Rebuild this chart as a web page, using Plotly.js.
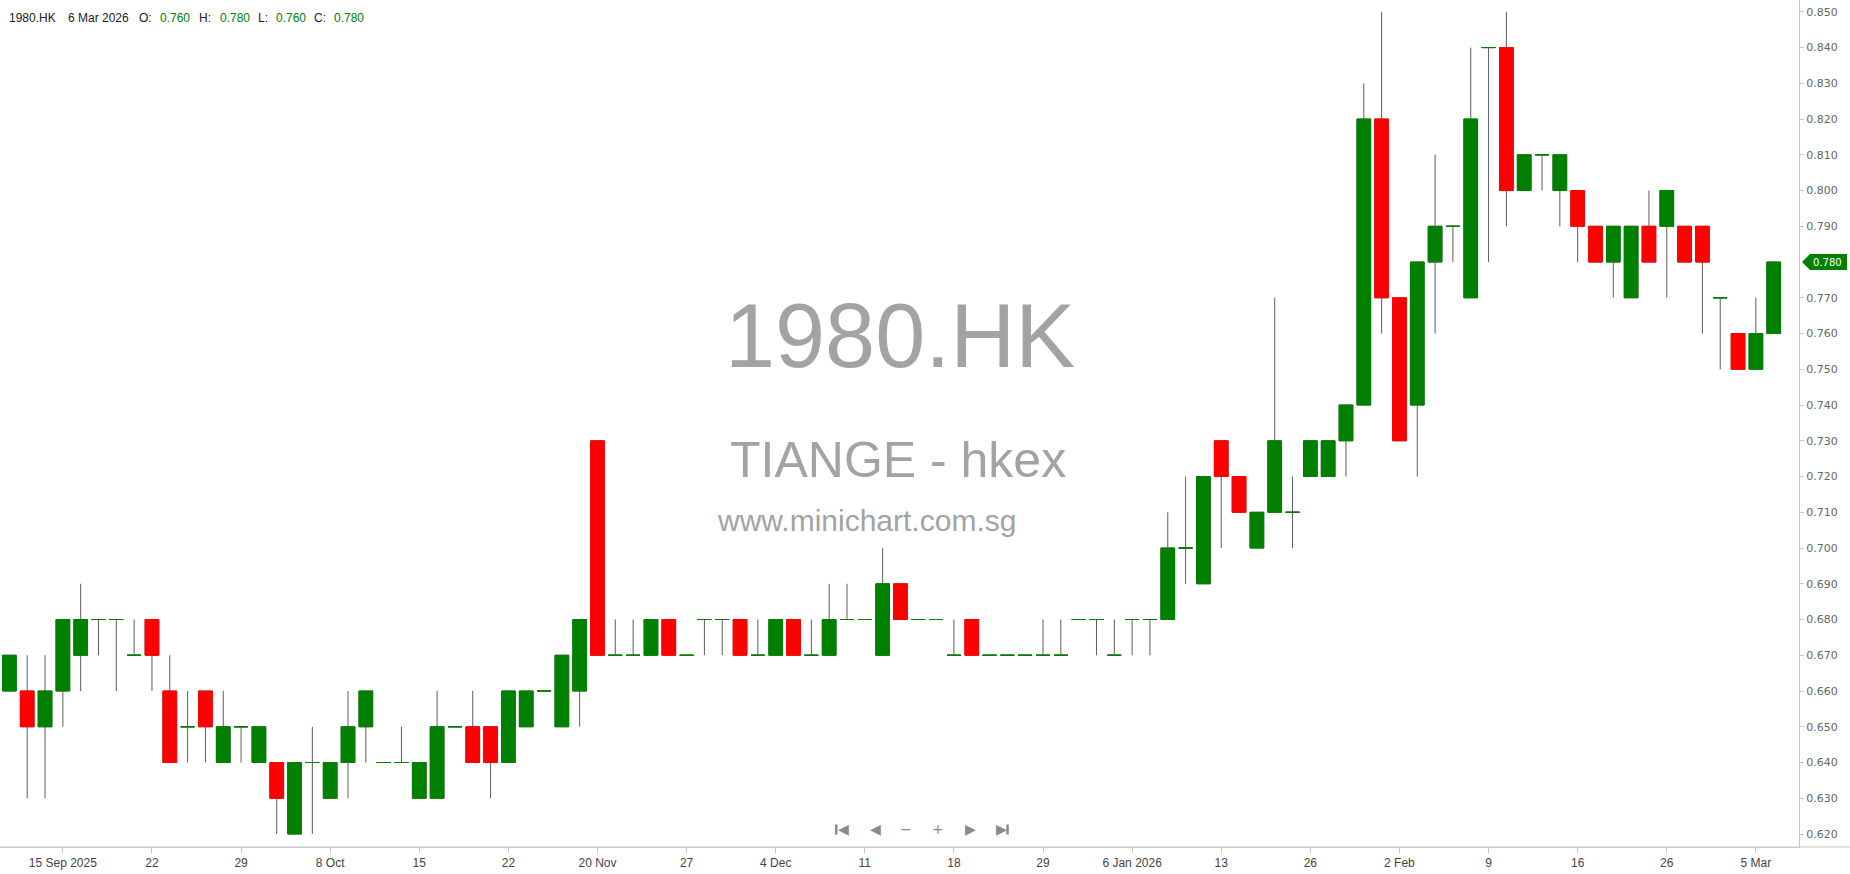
<!DOCTYPE html>
<html>
<head>
<meta charset="utf-8">
<script src="https://cdn.plot.ly/plotly-3.0.1.min.js"></script>
<style>
html,body{margin:0;padding:0;background:#ffffff;}
#chart{width:1850px;height:874px;}
</style>
</head>
<body>
<div id="chart"></div>
<script>
// ---------------- DATA ----------------
const symbol = "1980.HK";
const companyLabel = "TIANGE - hkex";
const siteLabel = "www.minichart.com.sg";

const dates = [
  "2025-09-10","2025-09-11","2025-09-12",
  "2025-09-15","2025-09-16","2025-09-17","2025-09-18","2025-09-19",
  "2025-09-22","2025-09-23","2025-09-24","2025-09-25","2025-09-26",
  "2025-09-29","2025-09-30","2025-10-02","2025-10-03","2025-10-06",
  "2025-10-08","2025-10-09","2025-10-10","2025-10-13","2025-10-14",
  "2025-10-15","2025-10-16","2025-10-17","2025-10-20","2025-10-21",
  "2025-10-22","2025-10-24","2025-10-30","2025-11-06","2025-11-14",
  "2025-11-20","2025-11-21","2025-11-24","2025-11-25","2025-11-26",
  "2025-11-27","2025-11-28","2025-12-01","2025-12-02","2025-12-03",
  "2025-12-04","2025-12-05","2025-12-08","2025-12-09","2025-12-10",
  "2025-12-11","2025-12-12","2025-12-15","2025-12-16","2025-12-17",
  "2025-12-18","2025-12-19","2025-12-22","2025-12-23","2025-12-24",
  "2025-12-29","2025-12-30","2025-12-31","2026-01-02","2026-01-05",
  "2026-01-06","2026-01-07","2026-01-08","2026-01-09","2026-01-12",
  "2026-01-13","2026-01-14","2026-01-15","2026-01-19","2026-01-21",
  "2026-01-26","2026-01-27","2026-01-28","2026-01-29","2026-01-30",
  "2026-02-02","2026-02-03","2026-02-04","2026-02-05","2026-02-06",
  "2026-02-09","2026-02-10","2026-02-11","2026-02-12","2026-02-13",
  "2026-02-16","2026-02-20","2026-02-23","2026-02-24","2026-02-25",
  "2026-02-26","2026-02-27","2026-03-02","2026-03-03","2026-03-04",
  "2026-03-05","2026-03-06"
];

const open = [
  0.66,0.66,0.65, 0.66,0.67,0.68,0.68,0.67, 0.68,0.66,0.65,0.66,0.64,
  0.65,0.64,0.64,0.62,0.64, 0.63,0.64,0.65,0.64,0.64, 0.63,0.63,0.65,0.65,0.65,
  0.64,0.65,0.66,0.65,0.66, 0.73,0.67,0.67,0.67,0.68, 0.67,0.68,0.68,0.68,0.67,
  0.67,0.68,0.67,0.67,0.68, 0.68,0.67,0.69,0.68,0.68, 0.67,0.68,0.67,0.67,0.67,
  0.67,0.67,0.68,0.68,0.67, 0.68,0.68,0.68,0.70,0.69, 0.73,0.72,0.70,0.71,0.71,
  0.72,0.72,0.73,0.74,0.82, 0.77,0.74,0.78,0.79,0.77, 0.84,0.84,0.80,0.81,0.80,
  0.80,0.79,0.78,0.77,0.79, 0.79,0.79,0.79,0.77,0.76, 0.75,0.76
];
const high = [
  0.67,0.67,0.67, 0.68,0.69,0.68,0.68,0.68, 0.68,0.67,0.66,0.66,0.66,
  0.65,0.65,0.64,0.64,0.65, 0.64,0.66,0.66,0.64,0.65, 0.64,0.66,0.65,0.66,0.65,
  0.66,0.66,0.66,0.67,0.68, 0.73,0.68,0.68,0.68,0.68, 0.67,0.68,0.68,0.68,0.68,
  0.68,0.68,0.68,0.69,0.69, 0.68,0.70,0.69,0.68,0.68, 0.68,0.68,0.67,0.67,0.67,
  0.68,0.68,0.68,0.68,0.68, 0.68,0.68,0.71,0.72,0.72, 0.73,0.72,0.71,0.77,0.72,
  0.73,0.73,0.74,0.83,0.85, 0.77,0.78,0.81,0.79,0.84, 0.84,0.85,0.81,0.81,0.81,
  0.80,0.79,0.79,0.79,0.80, 0.80,0.79,0.79,0.77,0.76, 0.77,0.78
];
const low = [
  0.66,0.63,0.63, 0.65,0.66,0.67,0.66,0.67, 0.66,0.64,0.64,0.64,0.64,
  0.64,0.64,0.62,0.62,0.62, 0.63,0.63,0.64,0.64,0.64, 0.63,0.63,0.65,0.64,0.63,
  0.64,0.65,0.66,0.65,0.65, 0.67,0.67,0.67,0.67,0.67, 0.67,0.67,0.67,0.67,0.67,
  0.67,0.67,0.67,0.67,0.68, 0.68,0.67,0.68,0.68,0.68, 0.67,0.67,0.67,0.67,0.67,
  0.67,0.67,0.68,0.67,0.67, 0.67,0.67,0.68,0.69,0.69, 0.70,0.71,0.70,0.71,0.70,
  0.72,0.72,0.72,0.74,0.76, 0.73,0.72,0.76,0.78,0.77, 0.78,0.79,0.80,0.80,0.79,
  0.78,0.78,0.77,0.77,0.78, 0.77,0.78,0.76,0.75,0.75, 0.75,0.76
];
const close = [
  0.67,0.65,0.66, 0.68,0.68,0.68,0.68,0.67, 0.67,0.64,0.65,0.65,0.65,
  0.65,0.65,0.63,0.64,0.64, 0.64,0.65,0.66,0.64,0.64, 0.64,0.65,0.65,0.64,0.64,
  0.66,0.66,0.66,0.67,0.68, 0.67,0.67,0.67,0.68,0.67, 0.67,0.68,0.68,0.67,0.67,
  0.68,0.67,0.67,0.68,0.68, 0.68,0.69,0.68,0.68,0.68, 0.67,0.67,0.67,0.67,0.67,
  0.67,0.67,0.68,0.68,0.67, 0.68,0.68,0.70,0.70,0.72, 0.72,0.71,0.71,0.73,0.71,
  0.73,0.73,0.74,0.82,0.77, 0.73,0.78,0.79,0.79,0.82, 0.84,0.80,0.81,0.81,0.81,
  0.79,0.78,0.79,0.79,0.78, 0.80,0.78,0.78,0.77,0.75, 0.76,0.78
];

const tickDates = [
  "2025-09-15","2025-09-22","2025-09-29","2025-10-08","2025-10-15","2025-10-22",
  "2025-11-20","2025-11-27","2025-12-04","2025-12-11","2025-12-18","2025-12-29",
  "2026-01-06","2026-01-13","2026-01-26","2026-02-02","2026-02-09","2026-02-16",
  "2026-02-26","2026-03-05"
];
const tickLabels = [
  "15 Sep 2025","22","29","8 Oct","15","22",
  "20 Nov","27","4 Dec","11","18","29",
  "6 Jan 2026","13","26","2 Feb","9","16",
  "26","5 Mar"
];
const priceTicks = [0.62,0.63,0.64,0.65,0.66,0.67,0.68,0.69,0.70,0.71,0.72,0.73,
  0.74,0.75,0.76,0.77,0.78,0.79,0.80,0.81,0.82,0.83,0.84,0.85];

// ---------------- STYLE ----------------
const UP = "#008000", DOWN = "#ff0000", WICK = "#5e5e5e";
const FONT = "Liberation Sans, Arial, sans-serif";
const AXFONT = "DejaVu Sans, Verdana, sans-serif";
const W = 1850, H = 874, PL = 0, PR = 51, PT = 0, PB = 27;
const plotW = W - PL - PR, plotH = H - PT - PB;
const Y0 = 0.616364, Y1 = 0.853301;
const px = x => (x - PL) / plotW;          // pixel -> paper x
const py = y => 1 - (y - PT) / plotH;      // pixel -> paper y

// body-only arrays (high/low clipped to the body so only the box is drawn)
const upO = [], upC = [], upH = [], upL = [];
const dnO = [], dnC = [], dnH = [], dnL = [];
for (let i = 0; i < dates.length; i++) {
  const o = open[i], c = close[i];
  const isUp = c >= o;
  upO.push(isUp ? o : null); upC.push(isUp ? c : null);
  upH.push(isUp ? Math.max(o, c) : null); upL.push(isUp ? Math.min(o, c) : null);
  dnO.push(!isUp ? o : null); dnC.push(!isUp ? c : null);
  dnH.push(!isUp ? Math.max(o, c) : null); dnL.push(!isUp ? Math.min(o, c) : null);
}

const wickTrace = {
  type: "candlestick", x: dates, open: open, high: high, low: low, close: close,
  increasing: {line: {color: WICK, width: 1}, fillcolor: "rgba(0,0,0,0)"},
  decreasing: {line: {color: WICK, width: 1}, fillcolor: "rgba(0,0,0,0)"},
  hoverinfo: "skip", showlegend: false
};
const upTrace = {
  type: "candlestick", x: dates, open: upO, high: upH, low: upL, close: upC,
  increasing: {line: {color: UP, width: 1}, fillcolor: UP},
  decreasing: {line: {color: UP, width: 1}, fillcolor: UP},
  hoverinfo: "skip", showlegend: false
};
const dnTrace = {
  type: "candlestick", x: dates, open: dnO, high: dnH, low: dnL, close: dnC,
  increasing: {line: {color: DOWN, width: 1}, fillcolor: DOWN},
  decreasing: {line: {color: DOWN, width: 1}, fillcolor: DOWN},
  hoverinfo: "skip", showlegend: false
};

// ---------------- ANNOTATIONS ----------------
const last = dates.length - 1;
const MONTHS = ["Jan","Feb","Mar","Apr","May","Jun","Jul","Aug","Sep","Oct","Nov","Dec"];
function fmtDate(s) {
  const [y, m, d] = s.split("-").map(Number);
  return d + " " + MONTHS[m - 1] + " " + y;
}
const valColor = close[last] >= open[last] ? UP : DOWN;
const header = [
  [7, symbol, "#222"], [66, fmtDate(dates[last]), "#222"],
  [137, "O:", "#222"], [158, open[last].toFixed(3), valColor],
  [197, "H:", "#222"], [218, high[last].toFixed(3), valColor],
  [256, "L:", "#222"], [274, low[last].toFixed(3), valColor],
  [312, "C:", "#222"], [332, close[last].toFixed(3), valColor]
];
const annotations = header.map(([x, t, c]) => ({
  xref: "paper", yref: "paper", x: px(x), y: py(18), xanchor: "left", yanchor: "middle",
  text: t, showarrow: false, font: {family: FONT, size: 12, color: c}
}));

// watermark
annotations.push(
  {xref: "paper", yref: "paper", x: px(900), y: py(336), xanchor: "center", yanchor: "middle",
   text: symbol, showarrow: false, font: {family: FONT, size: 90, color: "#a3a3a3"}},
  {xref: "paper", yref: "paper", x: px(898), y: py(460), xanchor: "center", yanchor: "middle",
   text: companyLabel, showarrow: false, font: {family: FONT, size: 50, color: "#a3a3a3"}},
  {xref: "paper", yref: "paper", x: px(866), y: py(520), xanchor: "center", yanchor: "middle",
   text: siteLabel, showarrow: false, font: {family: FONT, size: 30, color: "#a3a3a3"}}
);

// navigation icons (text glyphs) and the end bars of first/last buttons
const NAV = "#8a8a8a";
const navIcons = ["◀", "◀", "−", "+", "▶", "▶"];
const navX = [843, 875, 906, 938, 970, 1001];
navIcons.forEach((t, k) => annotations.push({
  xref: "paper", yref: "paper", x: px(navX[k]), y: py(829), xanchor: "center", yanchor: "middle",
  text: t, showarrow: false, font: {family: "DejaVu Sans, sans-serif", size: 14, color: NAV}
}));

// last price marker
const lastPx = close[last];
const halfH = 8 / (plotH / (Y1 - Y0));
annotations.push({
  xref: "paper", yref: "y", x: px(1827), y: lastPx, xanchor: "center", yanchor: "middle",
  text: lastPx.toFixed(3), showarrow: false, font: {family: AXFONT, size: 10, color: "#ffffff"}
});
const shapes = [
  {type: "path", xref: "paper", yref: "y", layer: "above",
   path: `M ${px(1802)},${lastPx} L ${px(1810)},${lastPx + halfH} L ${px(1847)},${lastPx + halfH} L ${px(1847)},${lastPx - halfH} L ${px(1810)},${lastPx - halfH} Z`,
   fillcolor: UP, line: {width: 0}},
  {type: "line", xref: "paper", yref: "paper", x0: 0, x1: px(W), y0: 0, y1: 0,
   line: {color: "#c8c8c8", width: 1}},
  {type: "rect", xref: "paper", yref: "paper", x0: px(835), x1: px(837.5), y0: py(834.5), y1: py(824.5),
   fillcolor: NAV, line: {width: 0}},
  {type: "rect", xref: "paper", yref: "paper", x0: px(1006.3), x1: px(1008.8), y0: py(834.5), y1: py(824.5),
   fillcolor: NAV, line: {width: 0}}
];

const layout = {
  width: W, height: H,
  margin: {l: PL, r: PR, t: PT, b: PB, pad: 0},
  paper_bgcolor: "#ffffff", plot_bgcolor: "#ffffff",
  showlegend: false, dragmode: false,
  boxgap: 0.23, boxgroupgap: 0, boxmode: "overlay",
  font: {family: FONT},
  xaxis: {
    type: "category", range: [-0.527, 100.42], rangeslider: {visible: false},
    tickmode: "array", tickvals: tickDates, ticktext: tickLabels,
    ticks: "outside", ticklen: 5, tickcolor: "#c8c8c8", tickwidth: 1,
    showline: true, linecolor: "#c8c8c8", linewidth: 1,
    showgrid: false, zeroline: false,
    tickfont: {family: FONT, size: 12, color: "#444"}, fixedrange: true
  },
  yaxis: {
    side: "right", range: [Y0, Y1],
    tickmode: "array", tickvals: priceTicks.filter(v => Math.abs(v - lastPx) > 1e-9),
    ticktext: priceTicks.filter(v => Math.abs(v - lastPx) > 1e-9).map(v => v.toFixed(3)),
    ticks: "outside", ticklen: 4, tickcolor: "#c8c8c8", tickwidth: 1,
    showline: true, linecolor: "#c8c8c8", linewidth: 1,
    showgrid: false, zeroline: false,
    tickfont: {family: AXFONT, size: 11, color: "#666"}, fixedrange: true
  },
  annotations: annotations,
  shapes: shapes
};

Plotly.newPlot("chart", [wickTrace, upTrace, dnTrace], layout, {displayModeBar: false, staticPlot: true});
</script>
</body>
</html>
